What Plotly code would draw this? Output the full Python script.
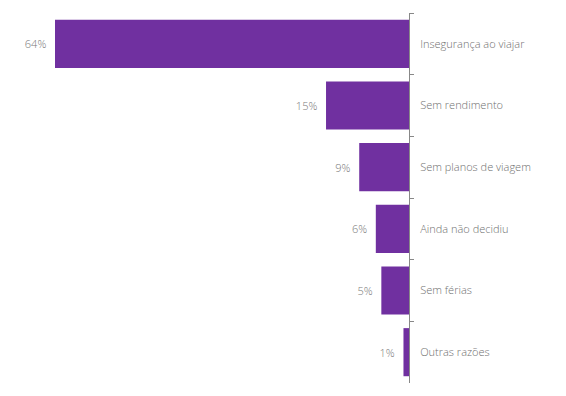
import plotly.graph_objects as go

categories = ["Insegurança ao viajar", "Sem rendimento", "Sem planos de viagem",
              "Ainda não decidiu", "Sem férias", "Outras razões"]
values = [64, 15, 9, 6, 5, 1]
value_labels = ["64%", "15%", "9%", "6%", "5%", "1%"]

fig = go.Figure(go.Bar(
    x=values, y=categories, orientation="h",
    marker=dict(color="#7030A0", line=dict(width=0)),
    width=0.78,
    text=[v + "\u00a0\u00a0" for v in value_labels], textposition="outside",
    textfont=dict(family="Open Sans", size=11, color="#7a7a7a", weight=300),
    cliponaxis=False,
))

fig.update_layout(
    width=566, height=396,
    margin=dict(l=55, r=157, t=13, b=13),
    paper_bgcolor="white", plot_bgcolor="white",
    showlegend=False,
    font=dict(family="Open Sans", size=11, color="#707070", weight=300),
    xaxis=dict(range=[64, 0], showgrid=False, zeroline=False, showticklabels=False,
               showline=False, ticks=""),
    yaxis=dict(side="right", autorange="reversed", showgrid=False, zeroline=False,
               showline=True, linecolor="#888888", linewidth=1,
               ticks="outside", tickson="boundaries", ticklen=4, tickcolor="#888888",
               ticklabelstandoff=8,
               tickfont=dict(family="Open Sans", size=11, color="#707070", weight=300)),
)

fig.write_html("out.html")
